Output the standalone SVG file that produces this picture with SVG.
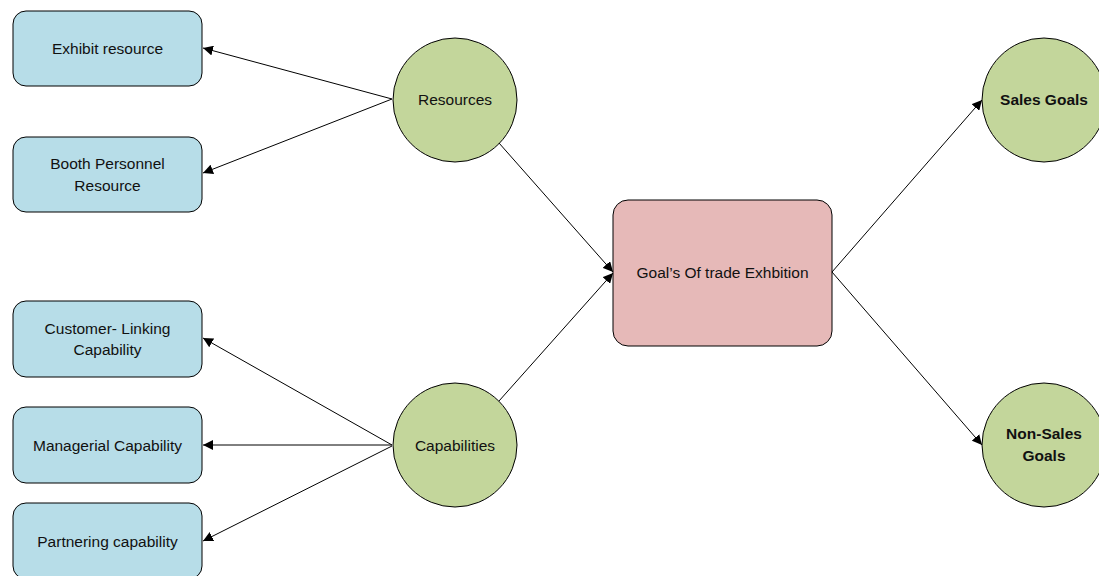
<svg xmlns="http://www.w3.org/2000/svg" width="1099" height="576" viewBox="0 0 1099 576">
<style>
.box{fill:#b7dde8;stroke:#000;stroke-width:1}
.circ{fill:#c3d69b;stroke:#000;stroke-width:1}
.goal{fill:#e6b9b8;stroke:#000;stroke-width:1}
text{font-family:"Liberation Sans",Arial,sans-serif;font-size:15.5px;fill:#111;text-anchor:middle}
.b{font-weight:bold}
.con line{stroke:#000;stroke-width:1;marker-end:url(#ah)}
</style>
<defs>
<marker id="ah" viewBox="0 0 10 10" refX="10" refY="5" markerWidth="10" markerHeight="10" markerUnits="userSpaceOnUse" orient="auto">
<path d="M0,0 L10,5 L0,10 z" fill="#000"/>
</marker>
</defs>
<rect width="1099" height="576" fill="#fff"/>
<g id="exhibit"><rect class="box" x="13" y="11" width="189" height="75" rx="13"/><text x="107.5" y="54">Exhibit resource</text></g>
<g id="booth"><rect class="box" x="13" y="137" width="189" height="75" rx="13"/><text x="107.5" y="169">Booth Personnel</text><text x="107.5" y="191">Resource</text></g>
<g id="customer"><rect class="box" x="13" y="301" width="189" height="76" rx="13"/><text x="107.5" y="334">Customer- Linking</text><text x="107.5" y="355">Capability</text></g>
<g id="managerial"><rect class="box" x="13" y="407" width="189" height="76" rx="13"/><text x="107.5" y="451">Managerial Capability</text></g>
<g id="partnering"><rect class="box" x="13" y="503" width="189" height="76" rx="13"/><text x="107.5" y="547">Partnering capability</text></g>
<g id="resources"><circle class="circ" cx="455" cy="100" r="62"/><text x="455" y="105">Resources</text></g>
<g id="capabilities"><circle class="circ" cx="455" cy="445" r="62"/><text x="455" y="451">Capabilities</text></g>
<g id="goal"><rect class="goal" x="613" y="200" width="219" height="146" rx="15"/><text x="722.5" y="278">Goal’s Of trade Exhbition</text></g>
<g id="sales"><circle class="circ" cx="1044" cy="100" r="62"/><text class="b" x="1044" y="105">Sales Goals</text></g>
<g id="nonsales"><circle class="circ" cx="1044" cy="445" r="62"/><text class="b" x="1044" y="439">Non-Sales</text><text class="b" x="1044" y="461">Goals</text></g>
<g class="con">
<line x1="392" y1="99" x2="203" y2="48"/>
<line x1="392" y1="99" x2="203" y2="173"/>
<line x1="499" y1="143" x2="613" y2="272"/>
<line x1="499" y1="401" x2="613" y2="273"/>
<line x1="392" y1="445" x2="203" y2="338"/>
<line x1="392" y1="445" x2="203" y2="445"/>
<line x1="392" y1="446" x2="203" y2="541"/>
<line x1="832" y1="272" x2="982" y2="100"/>
<line x1="832" y1="272" x2="982" y2="445"/>
</g>
</svg>
